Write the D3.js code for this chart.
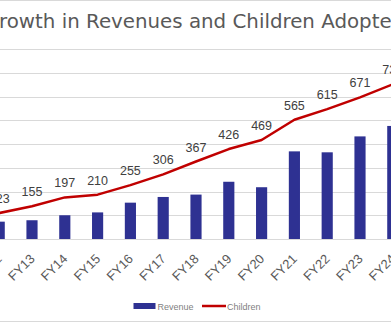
<!DOCTYPE html>
<html>
<head>
<meta charset="utf-8">
<script src="https://cdn.jsdelivr.net/npm/d3@7"></script>
<style>
  body { margin: 0; background: #fff; }
  svg { display: block; }
</style>
</head>
<body>
<script>
// Data
const years = ["FY12", "FY13", "FY14", "FY15", "FY16", "FY17", "FY18", "FY19", "FY20", "FY21", "FY22", "FY23", "FY24"];
const revenue = [0.73, 0.79, 1.0, 1.12, 1.53, 1.77, 1.87, 2.41, 2.18, 3.69, 3.65, 4.32, 4.76];
const children = [123, 155, 197, 210, 255, 306, 367, 426, 469, 565, 615, 671, 733];
const seriesNames = ["Revenue", "Children"];
const title = "Growth in Revenues and Children Adopted";

const width = 391, height = 323;
const grey = "#595959";

const svg = d3.select("body").append("svg")
    .attr("width", width)
    .attr("height", height);

// chart border (chart is cropped at the sides)
svg.append("rect")
    .attr("x", -2).attr("y", 0.5)
    .attr("width", width + 4).attr("height", 321)
    .attr("fill", "none")
    .attr("stroke", "#d9d9d9");

// Scales
const x = d3.scaleBand()
    .domain(years)
    .range([-17.2, 409.2])
    .paddingInner(0.66)
    .paddingOuter(0.33);

const yRev = d3.scaleLinear().domain([0, 8]).range([239, 49]);
const yKids = d3.scaleLinear().domain([0, 900]).range([239, 49]);

// Gridlines
svg.append("g")
    .selectAll("line")
    .data(yRev.ticks(8))
    .join("line")
    .attr("x1", -2).attr("x2", width + 2)
    .attr("y1", d => Math.round(yRev(d)) + 0.5)
    .attr("y2", d => Math.round(yRev(d)) + 0.5)
    .attr("stroke", "#d9d9d9");

// Bars
svg.append("g")
    .selectAll("rect")
    .data(revenue)
    .join("rect")
    .attr("x", (d, i) => x(years[i]))
    .attr("y", d => yRev(d))
    .attr("width", x.bandwidth())
    .attr("height", d => yRev(0) - yRev(d))
    .attr("fill", "#2e3192");

// Line
const line = d3.line()
    .x((d, i) => x(years[i]) + x.bandwidth() / 2)
    .y(d => yKids(d));

svg.append("path")
    .datum(children)
    .attr("d", line)
    .attr("fill", "none")
    .attr("stroke", "#c00000")
    .attr("stroke-width", 2.5)
    .attr("stroke-linejoin", "round");

// Data labels
svg.append("g")
    .selectAll("text")
    .data(children)
    .join("text")
    .attr("x", (d, i) => x(years[i]) + x.bandwidth() / 2)
    .attr("y", d => yKids(d) - 10)
    .attr("text-anchor", "middle")
    .attr("font-family", "Liberation Sans, Arial, sans-serif")
    .attr("font-size", 12.5)
    .attr("fill", "#404040")
    .text(d => d);

// X axis labels, rotated
svg.append("g")
    .selectAll("text")
    .data(years)
    .join("text")
    .attr("transform", d => `translate(${x(d) + x.bandwidth() / 2 - 3},253) rotate(-45)`)
    .attr("dy", "0.71em")
    .attr("text-anchor", "end")
    .attr("font-family", "Liberation Sans, Arial, sans-serif")
    .attr("font-size", 13)
    .attr("fill", grey)
    .text(d => d);

// Title: visible part runs from "r" to "e" across the cropped width
const t = svg.append("text")
    .attr("font-family", "DejaVu Sans, sans-serif")
    .attr("font-size", 17)
    .attr("fill", grey)
    .text(title.slice(1, -1));
const fs = 17 * 393 / t.node().getComputedTextLength();
t.attr("font-size", fs).text("G");
const gW = t.node().getComputedTextLength();
t.attr("x", -gW - 1).attr("y", 27.5).text(title);

// Legend
const legend = svg.append("g")
    .attr("font-family", "Liberation Sans, Arial, sans-serif")
    .attr("font-size", 9)
    .attr("fill", "#7f7f7f");

legend.append("rect")
    .attr("x", 133.5).attr("y", 303)
    .attr("width", 22).attr("height", 6)
    .attr("fill", "#2e3192");
legend.append("text")
    .attr("x", 157.5).attr("y", 309.5)
    .text(seriesNames[0]);

legend.append("line")
    .attr("x1", 202).attr("x2", 226)
    .attr("y1", 306).attr("y2", 306)
    .attr("stroke", "#c00000")
    .attr("stroke-width", 2.5);
legend.append("text")
    .attr("x", 227).attr("y", 309.5)
    .text(seriesNames[1]);
</script>
</body>
</html>
